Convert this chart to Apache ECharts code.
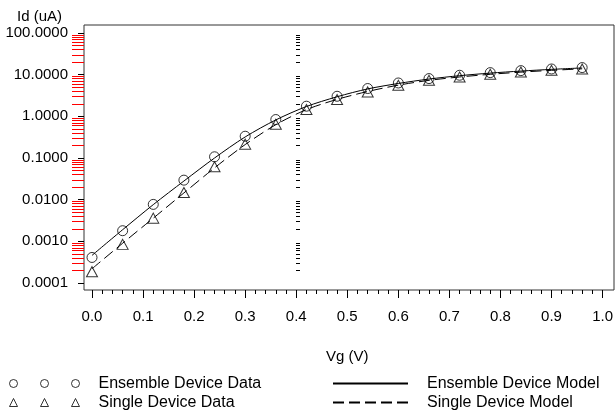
<!DOCTYPE html>
<html><head><meta charset="utf-8">
<script src="https://cdn.jsdelivr.net/npm/echarts@6/dist/echarts.min.js"></script>
<style>html,body{margin:0;padding:0;background:#fff}#c{width:616px;height:420px}</style>
</head><body><div id="c"></div>
<script>
const vg = [0, 0.06, 0.12, 0.18, 0.24, 0.30, 0.36, 0.42, 0.48, 0.54, 0.60, 0.66, 0.72, 0.78, 0.84, 0.90, 0.96];
const ensembleData = [4.1e-4, 1.8e-3, 7.7e-3, 0.0294, 0.107, 0.333, 0.838, 1.75, 3.03, 4.65, 6.32, 8.06, 9.68, 11.2, 12.5, 13.7, 14.8];
const singleData = [1.87e-4, 8.45e-4, 3.6e-3, 0.0149, 0.0614, 0.215, 0.647, 1.46, 2.53, 3.85, 5.57, 7.34, 8.81, 10.2, 11.6, 12.7, 13.7];
const ensembleModel = [4.6e-4, 1.9e-3, 7.6e-3, 0.028, 0.100, 0.32, 0.82, 1.72, 2.95, 4.55, 6.15, 7.85, 9.45, 10.9, 12.2, 13.4, 14.5];
const singleModel = [2.2e-4, 9.0e-4, 3.6e-3, 0.0145, 0.058, 0.21, 0.63, 1.45, 2.55, 3.95, 5.6, 7.3, 8.8, 10.2, 11.5, 12.7, 13.8];
const yDecades = [-4, -3, -2, -1, 0, 1, 2];
const yMinorMultipliers = [2, 3, 4, 5, 6, 7, 8, 9];
const seriesNames = ['Ensemble Device Data', 'Single Device Data', 'Ensemble Device Model', 'Single Device Model'];

const FONT = "'Liberation Sans', Arial, Helvetica, sans-serif";
const pairs = (ys) => vg.map((x, i) => [x, ys[i]]);
const minorLogPositions = [];
yDecades.slice(0, -1).forEach(d => yMinorMultipliers.forEach(m => minorLogPositions.push(d + Math.log10(m))));

const circles3 = 'path://M0,4a4,4 0 1,0 8,0a4,4 0 1,0 -8,0M31,4a4,4 0 1,0 8,0a4,4 0 1,0 -8,0M62,4a4,4 0 1,0 8,0a4,4 0 1,0 -8,0';
const tris3 = 'path://M4,0L8,8L0,8ZM35,0L39,8L31,8ZM66,0L70,8L62,8Z';
const hollow = {color: 'rgba(0,0,0,0)', borderColor: '#000', borderWidth: 1};
const plotRect = {left: 92, right: 10, top: 33, bottom: 137};

const chart = echarts.init(document.getElementById('c'), null, {renderer: 'canvas'});
chart.setOption({
  animation: false,
  backgroundColor: '#fff',
  textStyle: {fontFamily: FONT, color: '#000'},
  title: {text: 'Id (uA)', left: 17, top: 9, padding: 0,
    textStyle: {fontFamily: FONT, fontSize: 15, fontWeight: 'normal', color: '#000'}},
  grid: [
    Object.assign({}, plotRect),
    {left: 84, right: 2, top: 25, bottom: 130, show: true, borderColor: '#333', borderWidth: 1, backgroundColor: 'rgba(0,0,0,0)'},
    {left: 84, right: 10, top: plotRect.top, bottom: plotRect.bottom},
    {left: 300, right: 10, top: plotRect.top, bottom: plotRect.bottom}
  ],
  xAxis: [
    {type: 'value', gridIndex: 0, min: 0, max: 1, interval: 0.1, offset: 7,
      name: 'Vg (V)', nameLocation: 'middle', nameGap: 59,
      nameTextStyle: {fontFamily: FONT, fontSize: 15, color: '#000'},
      axisLine: {show: false, onZero: false},
      axisTick: {show: true, length: 8, lineStyle: {color: '#000', width: 1}},
      minorTick: {show: true, splitNumber: 5, length: 4, lineStyle: {color: '#000', width: 1}},
      splitLine: {show: false}, minorSplitLine: {show: false},
      axisLabel: {fontFamily: FONT, fontSize: 15, color: '#000', margin: 19,
        formatter: v => v.toFixed(1)}},
    {type: 'value', gridIndex: 1, min: 0, max: 1, show: false},
    {type: 'value', gridIndex: 2, min: 0, max: 1, show: false},
    {type: 'value', gridIndex: 3, min: 0, max: 1, show: false}
  ],
  yAxis: [
    {type: 'log', gridIndex: 0, logBase: 10, min: 1e-4, max: 100, splitNumber: 6, offset: 8,
      axisLine: {show: false, onZero: false},
      axisTick: {show: true, length: 6, lineStyle: {color: '#000', width: 1}},
      splitLine: {show: false},
      axisLabel: {fontFamily: FONT, fontSize: 15, color: '#000', margin: 16,
        formatter: v => Number(v).toFixed(4)}},
    {type: 'value', gridIndex: 1, min: 0, max: 1, show: false},
    {type: 'value', gridIndex: 2, min: yDecades[0], max: yDecades[yDecades.length - 1], position: 'left',
      axisLine: {show: false, onZero: false}, splitLine: {show: false},
      axisLabel: {show: false},
      axisTick: {show: true, length: 12, customValues: minorLogPositions, lineStyle: {color: 'red', width: 1}}},
    {type: 'value', gridIndex: 3, min: yDecades[0], max: yDecades[yDecades.length - 1], position: 'left',
      axisLine: {show: false, onZero: false}, splitLine: {show: false},
      axisLabel: {show: false},
      axisTick: {show: true, length: 4, customValues: minorLogPositions, lineStyle: {color: '#000', width: 1}}}
  ],
  legend: [
    {left: 4, bottom: 3, orient: 'vertical', itemGap: 0, selectedMode: false,
      itemWidth: 70, itemHeight: 8,
      textStyle: {fontFamily: FONT, fontSize: 16, lineHeight: 19, color: '#000', padding: [0, 0, 0, 14]},
      data: [
        {name: seriesNames[0], icon: circles3, itemStyle: hollow},
        {name: seriesNames[1], icon: tris3, itemStyle: hollow}
      ]},
    {left: 327, bottom: 3, orient: 'vertical', itemGap: 0, selectedMode: false,
      itemWidth: 75, itemHeight: 14,
      textStyle: {fontFamily: FONT, fontSize: 16, lineHeight: 19, color: '#000', padding: [0, 0, 0, 14]},
      data: [
        {name: seriesNames[2], itemStyle: {opacity: 0}},
        {name: seriesNames[3], itemStyle: {opacity: 0}}
      ]}
  ],
  series: [
    {name: seriesNames[2], type: 'line', xAxisIndex: 0, yAxisIndex: 0, smooth: 0.3, showSymbol: false, symbol: 'none',
      data: pairs(ensembleModel), lineStyle: {color: '#000', width: 1, type: 'solid'}, itemStyle: {color: '#000'}, z: 2},
    {name: seriesNames[3], type: 'line', xAxisIndex: 0, yAxisIndex: 0, smooth: 0.3, showSymbol: false, symbol: 'none',
      data: pairs(singleModel), lineStyle: {color: '#000', width: 1, type: [11, 5]}, itemStyle: {color: '#000'}, z: 2},
    {name: seriesNames[0], type: 'scatter', xAxisIndex: 0, yAxisIndex: 0, symbol: 'circle', symbolSize: 10,
      data: pairs(ensembleData), itemStyle: hollow, z: 3},
    {name: seriesNames[1], type: 'scatter', xAxisIndex: 0, yAxisIndex: 0, symbol: 'triangle', symbolSize: [11, 10],
      data: pairs(singleData), itemStyle: hollow, z: 3}
  ]
});
</script></body></html>
